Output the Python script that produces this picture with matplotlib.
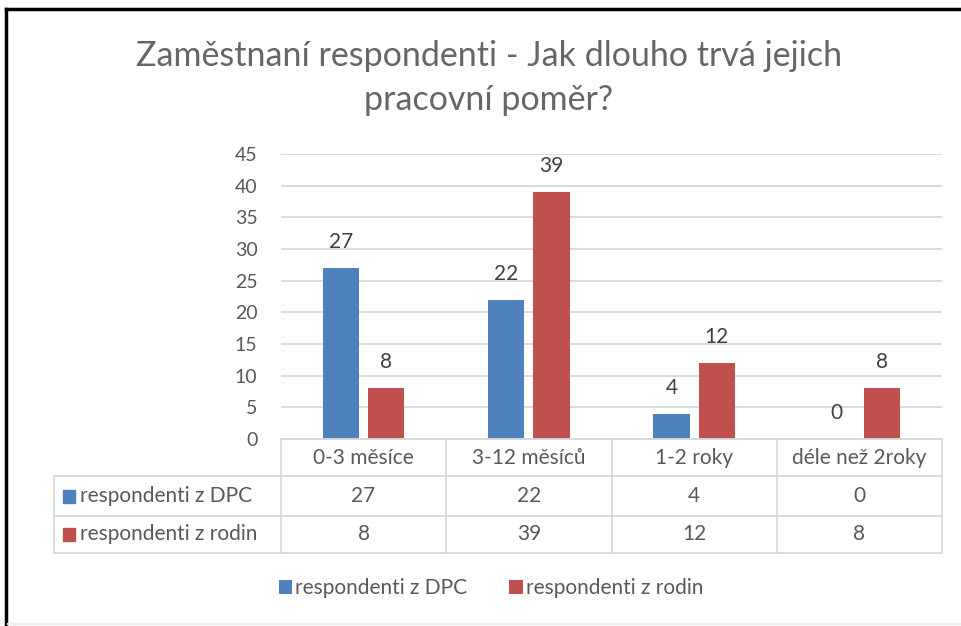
import matplotlib
matplotlib.use("Agg")
import matplotlib.pyplot as plt
from matplotlib.lines import Line2D
from matplotlib.patches import Rectangle
import numpy as np

plt.rcParams['font.family'] = ['Lato', 'DejaVu Sans']

categories = ["0-3 měsíce", "3-12 měsíců", "1-2 roky", "déle než 2roky"]
series_names = ["respondenti z DPC", "respondenti z rodin"]
dpc = [27, 22, 4, 0]
rodin = [8, 39, 12, 8]
yticks = [0, 5, 10, 15, 20, 25, 30, 35, 40, 45]
title = "Zaměstnaní respondenti - Jak dlouho trvá jejich\npracovní poměr?"

colors = ["#4F81BD", "#C0504D"]
txt = "#595959"
grid = "#D9D9D9"

W, H = 961, 626
fig = plt.figure(figsize=(W / 100, H / 100), dpi=100)

def fx(px):
    return px / W

def fy(py):
    return 1 - py / H

ax_l, ax_r, ax_t, ax_b = 281, 942, 154, 439
ax = fig.add_axes([fx(ax_l), fy(ax_b), fx(ax_r - ax_l), fy(ax_t) - fy(ax_b)])

x = np.arange(len(categories))
bw = 0.22
off = 0.137
series = [dpc, rodin]
bars = []
for i, (vals, c) in enumerate(zip(series, colors)):
    b = ax.bar(x + (i * 2 - 1) * off, vals, bw, color=c, zorder=3,
               label=series_names[i])
    bars.append(b)
    for xi, v in zip(x, vals):
        ax.annotate(str(v), (xi + (i * 2 - 1) * off, v), xytext=(0, 11.5),
                    textcoords="offset points", ha="center", va="bottom",
                    fontsize=15, color="#404040")

ax.set_xlim(-0.5, len(categories) - 0.5)
ax.set_ylim(0, 45)
ax.set_yticks(yticks)
ax.set_yticklabels([str(t) for t in yticks], fontsize=14, color=txt)
ax.tick_params(axis='y', length=0, pad=17)
ax.set_xticks([])
ax.yaxis.grid(True, color=grid, linewidth=1.3, zorder=0)
for s in ["top", "right", "left"]:
    ax.spines[s].set_visible(False)
ax.spines["bottom"].set_color(grid)
ax.spines["bottom"].set_linewidth(1.3)

# data table
col_edges = [ax_l + (ax_r - ax_l) * k / len(categories) for k in range(len(categories) + 1)]
row_edges = [439, 476, 516, 553]
tab_left = 54
lc = grid
lw = 1.3
fig.add_artist(Line2D([fx(ax_l), fx(ax_r)], [fy(row_edges[0])] * 2, color=lc, lw=lw))
for ry in row_edges[1:]:
    fig.add_artist(Line2D([fx(tab_left), fx(ax_r)], [fy(ry)] * 2, color=lc, lw=lw))
for cx in col_edges:
    fig.add_artist(Line2D([fx(cx)] * 2, [fy(row_edges[0]), fy(row_edges[-1])], color=lc, lw=lw))
fig.add_artist(Line2D([fx(tab_left)] * 2, [fy(row_edges[1]), fy(row_edges[-1])], color=lc, lw=lw))

fs_tab = 15
for k, cat in enumerate(categories):
    cx = (col_edges[k] + col_edges[k + 1]) / 2
    fig.text(fx(cx), fy((row_edges[0] + row_edges[1]) / 2), cat, ha="center", va="center",
             fontsize=fs_tab, color=txt)
for r, (name, vals, c) in enumerate(zip(series_names, series, colors)):
    cy = (row_edges[r + 1] + row_edges[r + 2]) / 2
    fig.add_artist(Rectangle((fx(63), fy(cy + 6.5)), fx(12), fy(cy - 6.5) - fy(cy + 6.5), color=c))
    fig.text(fx(80), fy(cy), name, ha="left", va="center", fontsize=fs_tab, color=txt)
    for k, v in enumerate(vals):
        cx = (col_edges[k] + col_edges[k + 1]) / 2
        fig.text(fx(cx), fy(cy), str(v), ha="center", va="center", fontsize=fs_tab, color=txt)

leg = fig.legend(handles=bars, labels=series_names, loc="center", bbox_to_anchor=(fx(491), fy(588)),
                 ncol=2, frameon=False, fontsize=fs_tab, handlelength=0.65, handleheight=0.65,
                 handletextpad=0.15, columnspacing=2.0)
for t in leg.get_texts():
    t.set_color(txt)

fig.text(fx(489), fy(78), title, ha="center", va="center", fontsize=24.5, color="#666666",
         fontweight="normal", linespacing=1.5)

fig.add_artist(Line2D([fx(6), fx(W)], [fy(9), fy(9)], color="black", lw=2.5))
fig.add_artist(Line2D([fx(6), fx(6)], [fy(9), fy(H)], color="black", lw=2.5))
fig.add_artist(Line2D([fx(8), fx(W)], [fy(624), fy(624)], color="#EEEEEE", lw=1.5))

fig.savefig("out.png", dpi=100)
